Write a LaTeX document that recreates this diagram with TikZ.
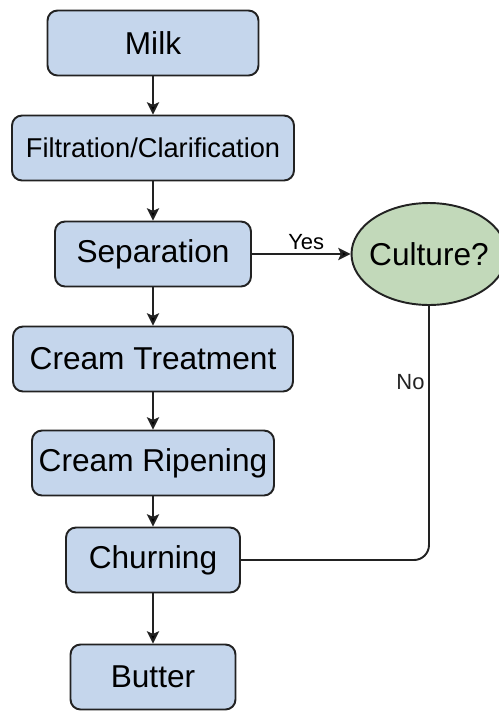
\documentclass[tikz,border=0pt]{standalone}
\usepackage{fontspec}
\setmainfont{Liberation Sans}
\usetikzlibrary{shapes.geometric,arrows.meta}
\definecolor{boxblue}{RGB}{197,214,236}
\definecolor{askgreen}{RGB}{194,217,186}
\definecolor{inkgray}{RGB}{34,34,34}
\begin{document}
\begin{tikzpicture}[x=0.02cm,y=-0.02cm,
  line width=1.1pt,
  proc node/.style={rectangle,rounded corners=0.2cm,draw=inkgray,fill=boxblue,minimum height=1.3cm,font=\fontsize{18}{21}\selectfont},
  ask node/.style={ellipse,draw=inkgray,fill=askgreen,minimum width=3.1cm,minimum height=2.04cm,inner xsep=-0.4cm,inner ysep=0pt,font=\fontsize{18}{21}\selectfont},
  flow/.style={draw=inkgray,-{Stealth[length=7pt,width=7pt,inset=1.5pt]}},
  tag/.style={font=\fontsize{12.5}{14}\selectfont,inner sep=2pt}]

  \useasboundingbox (0,0) rectangle (498,711);

  \node[proc node,minimum width=4.22cm] (milk) at (153,43) {Milk};
  \node[proc node,minimum width=5.64cm,font=\fontsize{15.5}{18}\selectfont] (filt) at (153,148) {Filtration/Clarification};
  \node[proc node,minimum width=3.92cm] (sep) at (153,254) {Separation};
  \node[ask node] (culture) at (429,254) {Culture?};
  \node[proc node,minimum width=5.6cm] (treat) at (153,359) {Cream Treatment};
  \node[proc node,minimum width=4.84cm] (ripen) at (153,463) {Cream Ripening};
  \node[proc node,minimum width=3.48cm] (churn) at (153,560) {Churning};
  \node[proc node,minimum width=3.3cm] (butter) at (153,677) {Butter};

  \path[flow]
    (milk) edge (filt)
    (filt) edge (sep)
    (sep) edge node[tag,above,pos=0.55]{Yes} (culture)
    (sep) edge (treat)
    (treat) edge (ripen)
    (ripen) edge (churn)
    (churn) edge (butter);

  \draw[inkgray,rounded corners=0.3cm] (culture.south) |- node[tag,left,pos=0.15]{No} (churn.east);
\end{tikzpicture}
\end{document}
